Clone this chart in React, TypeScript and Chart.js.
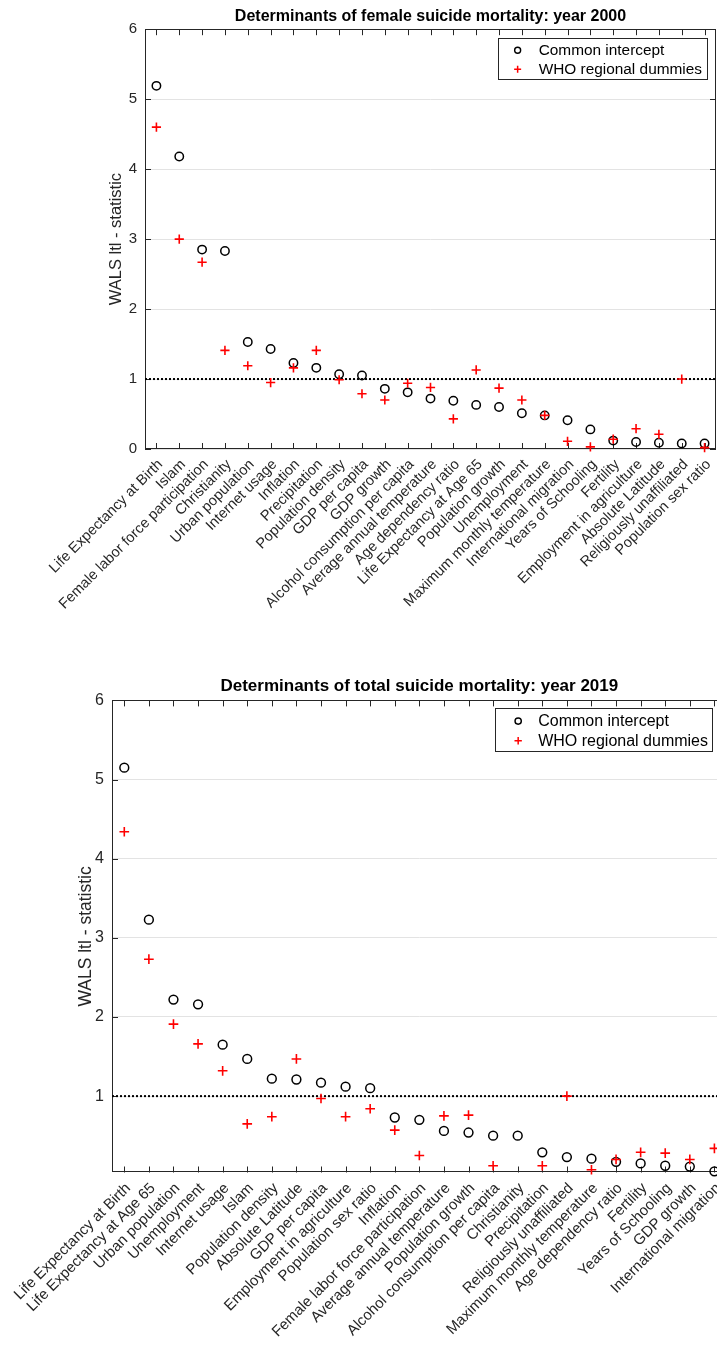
import { useEffect, useRef } from 'react';
import { Chart, registerables } from 'chart.js';

Chart.register(...registerables);

const FONT = "'Liberation Sans', Arial, Helvetica, sans-serif";

// ---- Female suicide mortality, year 2000 ----
const femaleCategories = [
  'Life Expectancy at Birth', 'Islam', 'Female labor force participation', 'Christianity',
  'Urban population', 'Internet usage', 'Inflation', 'Precipitation', 'Population density',
  'GDP per capita', 'GDP growth', 'Alcohol consumption per capita', 'Average annual temperature',
  'Age dependency ratio', 'Life Expectancy at Age 65', 'Population growth', 'Unemployment',
  'Maximum monthly temperature', 'International migration', 'Years of Schooling', 'Fertility',
  'Employment in agriculture', 'Absolute Latitude', 'Religiously unaffiliated', 'Population sex ratio',
];
const femaleCommon = [
  5.19, 4.18, 2.85, 2.83, 1.53, 1.43, 1.23, 1.16, 1.07, 1.05, 0.86, 0.81, 0.72,
  0.69, 0.63, 0.60, 0.51, 0.48, 0.41, 0.28, 0.12, 0.10, 0.09, 0.08, 0.08,
];
const femaleWho = [
  4.60, 3.00, 2.67, 1.41, 1.19, 0.95, 1.16, 1.41, 0.99, 0.79, 0.70, 0.94, 0.88,
  0.43, 1.13, 0.87, 0.70, 0.48, 0.11, 0.03, 0.14, 0.29, 0.21, 1.00, 0.02,
];
const femaleYTicks = [0, 1, 2, 3, 4, 5, 6];

// ---- Total suicide mortality, year 2019 ----
const totalCategories = [
  'Life Expectancy at Birth', 'Life Expectancy at Age 65', 'Urban population', 'Unemployment',
  'Internet usage', 'Islam', 'Population density', 'Absolute Latitude', 'GDP per capita',
  'Employment in agriculture', 'Population sex ratio', 'Inflation', 'Female labor force participation',
  'Average annual temperature', 'Population growth', 'Alcohol consumption per capita', 'Christianity',
  'Precipitation', 'Religiously unaffiliated', 'Maximum monthly temperature', 'Age dependency ratio',
  'Fertility', 'Years of Schooling', 'GDP growth', 'International migration',
];
const totalCommon = [
  5.15, 3.23, 2.22, 2.16, 1.65, 1.47, 1.22, 1.21, 1.17, 1.12, 1.10, 0.73, 0.70,
  0.56, 0.54, 0.50, 0.50, 0.29, 0.23, 0.21, 0.17, 0.15, 0.12, 0.11, 0.05,
];
const totalWho = [
  4.34, 2.73, 1.91, 1.66, 1.32, 0.65, 0.74, 1.47, 0.97, 0.74, 0.84, 0.57, 0.25,
  0.75, 0.76, 0.12, 0.02, 0.12, 1.00, 0.07, 0.20, 0.29, 0.28, 0.20, 0.34,
];
const totalYTicks = [1, 2, 3, 4, 5, 6];

const legendLabels = ['Common intercept', 'WHO regional dummies'];
const referenceLevel = 1;
const yLabel = 'WALS ltl - statistic';

type PanelSpec = {
  title: string;
  categories: string[];
  common: number[];
  who: number[];
  yTicks: number[];
  yMin: number;
  yMax: number;
  top: number;
  width: number;
  height: number;
  padLeft: number;
  padRight: number;
  yAxisWidth: number;
  xAxisHeight: number;
  titlePad: { top: number; bottom: number };
  titleSize: number;
  yLabelSize: number;
  tickSize: number;
  xTickSize: number;
  legend: { size: number; top: number; right: number; rowStart: number; rowGap: number; markerX: number; textX: number; padR: number; height: number };
  s: number;
};

const panels: PanelSpec[] = [
  {
    title: 'Determinants of female suicide mortality: year 2000',
    categories: femaleCategories,
    common: femaleCommon,
    who: femaleWho,
    yTicks: femaleYTicks,
    yMin: 0,
    yMax: 6,
    top: 0,
    width: 717,
    height: 650,
    padLeft: 107,
    padRight: 1,
    yAxisWidth: 38,
    xAxisHeight: 201,
    titlePad: { top: 7, bottom: 3 },
    titleSize: 16,
    yLabelSize: 16.5,
    tickSize: 15,
    xTickSize: 14.6,
    legend: { size: 15.4, top: 9, right: 9, rowStart: 12, rowGap: 19, markerX: 20, textX: 41, padR: 5, height: 41 },
    s: 1,
  },
  {
    title: 'Determinants of total suicide mortality: year 2019',
    categories: totalCategories,
    common: totalCommon,
    who: totalWho,
    yTicks: totalYTicks,
    yMin: 0.035,
    yMax: 6,
    top: 660,
    width: 730,
    height: 687,
    padLeft: 76,
    padRight: 3.3,
    yAxisWidth: 36,
    xAxisHeight: 174.5,
    titlePad: { top: 16, bottom: 4 },
    titleSize: 17,
    yLabelSize: 17.5,
    tickSize: 16,
    xTickSize: 15,
    legend: { size: 16, top: 7.7, right: 14.7, rowStart: 13, rowGap: 19.6, markerX: 23, textX: 43, padR: 4, height: 43.3 },
    s: 1.05,
  },
];

// Axes box with inward ticks on all four sides, plus a boxed legend in the top-right corner.
const framePlugin = {
  id: 'axesFrame',
  beforeDatasetsDraw(chart: any) {
    const { ctx, chartArea: a, scales } = chart;
    const tl = 6;
    ctx.save();
    ctx.strokeStyle = '#262626';
    ctx.lineWidth = 1;
    ctx.beginPath();
    scales.x.ticks.forEach((t: any) => {
      const px = Math.round(scales.x.getPixelForValue(t.value)) + 0.5;
      ctx.moveTo(px, a.bottom);
      ctx.lineTo(px, a.bottom - tl);
      ctx.moveTo(px, a.top);
      ctx.lineTo(px, a.top + tl);
    });
    scales.y.ticks.forEach((t: any) => {
      const py = Math.round(scales.y.getPixelForValue(t.value)) + 0.5;
      ctx.moveTo(a.left, py);
      ctx.lineTo(a.left + tl, py);
      ctx.moveTo(a.right, py);
      ctx.lineTo(a.right - tl, py);
    });
    ctx.stroke();
    ctx.strokeRect(Math.round(a.left) + 0.5, Math.round(a.top) + 0.5, Math.round(a.width) - 1, Math.round(a.height) - 1);
    ctx.restore();
  },
  afterDraw(chart: any, _args: any, opts: any) {
    const lg = opts.legend;
    if (!lg) return;
    const { ctx, chartArea: a } = chart;
    ctx.save();
    ctx.font = `${lg.size}px ${FONT}`;
    const textW = Math.max(...legendLabels.map((l) => ctx.measureText(l).width));
    const w = lg.textX + textW + lg.padR;
    const right = a.right - lg.right;
    const left = right - w;
    const top = a.top + lg.top;
    ctx.fillStyle = '#ffffff';
    ctx.fillRect(left, top, w, lg.height);
    ctx.strokeStyle = '#262626';
    ctx.lineWidth = 1;
    ctx.strokeRect(Math.round(left) + 0.5, Math.round(top) + 0.5, Math.round(w), Math.round(lg.height));
    legendLabels.forEach((label, i) => {
      const y = top + lg.rowStart + i * lg.rowGap;
      const mx = left + lg.markerX;
      if (i === 0) {
        ctx.strokeStyle = '#000000';
        ctx.lineWidth = 1.4;
        ctx.beginPath();
        ctx.arc(mx, y, 3 * opts.s, 0, Math.PI * 2);
        ctx.stroke();
      } else {
        ctx.strokeStyle = '#ff0000';
        ctx.lineWidth = 1.5;
        ctx.beginPath();
        ctx.moveTo(mx - 3.5 * opts.s, y);
        ctx.lineTo(mx + 3.5 * opts.s, y);
        ctx.moveTo(mx, y - 3.5 * opts.s);
        ctx.lineTo(mx, y + 3.5 * opts.s);
        ctx.stroke();
      }
      ctx.fillStyle = '#000000';
      ctx.textBaseline = 'middle';
      ctx.textAlign = 'left';
      ctx.fillText(label, left + lg.textX, y + 0.5);
    });
    ctx.restore();
  },
};

function Panel({ spec }: { spec: PanelSpec }) {
  const ref = useRef<HTMLCanvasElement>(null);

  useEffect(() => {
    const canvas = ref.current;
    if (!canvas) return;
    const inRange = (v: number) => v >= spec.yMin && v <= spec.yMax;
    const n = spec.categories.length;
    const chart = new Chart(canvas, {
      type: 'scatter',
      data: {
        datasets: [
          {
            label: legendLabels[1],
            data: spec.who.map((v, i) => ({ x: i, y: inRange(v) ? v : null })) as any,
            pointStyle: 'cross',
            pointRadius: 4.6 * spec.s,
            borderColor: '#ff0000',
            backgroundColor: '#ff0000',
            pointBorderWidth: 1.6,
            clip: false as any,
          },
          {
            label: legendLabels[0],
            data: spec.common.map((v, i) => ({ x: i, y: inRange(v) ? v : null })) as any,
            pointStyle: 'circle',
            pointRadius: 4.2 * spec.s,
            borderColor: '#000000',
            backgroundColor: 'rgba(0,0,0,0)',
            pointBorderWidth: 1.5,
            clip: false as any,
          },
          {
            type: 'line' as any,
            label: 'reference',
            data: [
              { x: -0.5, y: referenceLevel },
              { x: n - 0.5, y: referenceLevel },
            ],
            borderColor: '#000000',
            borderWidth: 2,
            borderDash: [2, 2],
            pointRadius: 0,
            fill: false,
          } as any,
        ],
      },
      options: {
        animation: false,
        responsive: false,
        devicePixelRatio: 1,
        events: [],
        layout: { autoPadding: false, padding: { left: spec.padLeft, right: spec.padRight, top: 0, bottom: 0 } },
        plugins: {
          legend: { display: false },
          tooltip: { enabled: false },
          title: {
            display: true,
            text: spec.title,
            fullSize: false,
            color: '#000000',
            font: { family: FONT, size: spec.titleSize, weight: 'bold' },
            padding: spec.titlePad,
          },
          axesFrame: { legend: spec.legend, s: spec.s },
        } as any,
        scales: {
          x: {
            type: 'linear',
            min: -0.5,
            max: n - 0.5,
            afterBuildTicks: (scale: any) => {
              scale.ticks = spec.categories.map((_, i) => ({ value: i }));
            },
            afterFit: (scale: any) => {
              scale.height = spec.xAxisHeight;
              scale.paddingLeft = 0;
              scale.paddingRight = 0;
            },
            grid: { display: false, drawTicks: false },
            border: { display: false },
            ticks: {
              autoSkip: false,
              minRotation: 45,
              maxRotation: 45,
              padding: 7,
              labelOffset: 4,
              color: '#262626',
              font: { family: FONT, size: spec.xTickSize },
              callback: (v: any) => spec.categories[Math.round(Number(v))] ?? '',
            },
          },
          y: {
            type: 'linear',
            min: spec.yMin,
            max: spec.yMax,
            afterBuildTicks: (scale: any) => {
              scale.ticks = spec.yTicks.map((v) => ({ value: v }));
            },
            afterFit: (scale: any) => {
              scale.width = spec.yAxisWidth;
            },
            grid: { color: '#e3e3e3', lineWidth: 1, drawTicks: false },
            border: { display: false },
            ticks: {
              padding: 8,
              color: '#262626',
              font: { family: FONT, size: spec.tickSize },
              callback: (v: any) => String(v),
            },
            title: {
              display: true,
              text: yLabel,
              color: '#262626',
              font: { family: FONT, size: spec.yLabelSize },
              padding: { top: 0, bottom: 0 },
            },
          },
        },
      },
      plugins: [framePlugin],
    });
    return () => chart.destroy();
  }, [spec]);

  return (
    <canvas
      ref={ref}
      width={spec.width}
      height={spec.height}
      style={{ position: 'absolute', left: 0, top: spec.top, width: spec.width, height: spec.height }}
    />
  );
}

export default function App() {
  return (
    <div
      style={{
        position: 'absolute',
        left: 0,
        top: 0,
        width: 717,
        height: 1347,
        overflow: 'hidden',
        background: '#ffffff',
      }}
    >
      {panels.map((p) => (
        <Panel key={p.title} spec={p} />
      ))}
    </div>
  );
}
